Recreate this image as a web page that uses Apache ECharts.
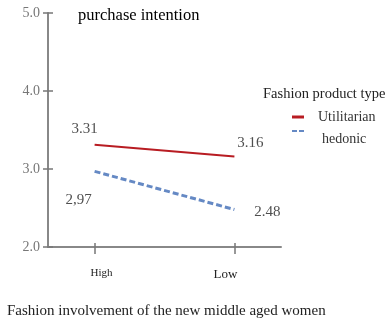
<!DOCTYPE html>
<html>
<head>
<meta charset="utf-8">
<script src="https://cdn.jsdelivr.net/npm/echarts@6/dist/echarts.min.js"></script>
<style>
  html, body { margin: 0; padding: 0; background: #fff; }
  #chart { width: 391px; height: 326px; }
</style>
</head>
<body>
<div id="chart"></div>
<script>
// Purchase intention by fashion involvement and product type
const categories = ['High', 'Low'];
const seriesNames = ['Utilitarian', 'hedonic'];
const utilitarian = [3.31, 3.16];
const hedonic = [2.97, 2.48];
const yTicks = [2.0, 3.0, 4.0, 5.0];
const labelTexts = {
  Utilitarian: ['3.31', '3.16'],
  hedonic: ['2,97', '2.48']
};

// category axis padded with blank slots so the two levels sit inside the frame
const axisSlots = ['', 'High', '', '', 'Low', ''];
const slotOf = c => axisSlots.indexOf(c);

const serif = '"Liberation Serif", "DejaVu Serif", serif';

// value label placement, relative to each point
const labelOffsets = {
  Utilitarian: [[-10, -16], [16, -13]],
  hedonic: [[-16, 29], [33, 3]]
};

function lineData(values) {
  return categories.map((c, i) => [slotOf(c), values[i]]);
}

function labelData(name, values) {
  return categories.map((c, i) => ({
    value: [slotOf(c), values[i]],
    label: {
      show: true,
      position: 'inside',
      offset: labelOffsets[name][i],
      formatter: labelTexts[name][i],
      fontFamily: serif,
      fontSize: 15,
      color: '#222'
    }
  }));
}

const isTickSlot = (i, v) => v !== '';

const axisLabelStyle = {
  High: { fontSize: 11, padding: [0, 0, 0, 14] },
  Low: { fontSize: 13, padding: [0, 18, 0, 0] }
};

// legend keys: a short solid bar and a short dashed bar (the dashed one sits high in its box)
const solidKey = 'path://M0,0H12V3H0Z';
const dashedKey = 'path://M0,0H5V2H0Z M7,0H12V2H7Z M0,18L0.01,18';

const chart = echarts.init(document.getElementById('chart'), null, { renderer: 'canvas' });

const legendText = { fontFamily: serif, fontSize: 14, color: '#333' };

chart.setOption({
  animation: false,
  backgroundColor: '#ffffff',
  title: [
    {
      text: 'purchase intention',
      left: 78, top: 7, padding: 0,
      textStyle: { fontFamily: serif, fontSize: 16.5, fontWeight: 'normal', color: '#000' }
    },
    {
      text: 'Fashion product type',
      left: 263, top: 87, padding: 0,
      textStyle: { fontFamily: serif, fontSize: 14.5, fontWeight: 'normal', color: '#222' }
    },
    {
      text: 'Fashion involvement of the new middle aged women',
      left: 7, top: 304, padding: 0,
      textStyle: { fontFamily: serif, fontSize: 15, fontWeight: 'normal', color: '#222' }
    }
  ],
  legend: [
    {
      orient: 'vertical',
      left: 292, top: 110, padding: 0,
      itemWidth: 12, itemHeight: 3,
      data: [{ name: seriesNames[0], icon: solidKey }],
      textStyle: Object.assign({ padding: [0, 0, 0, 9] }, legendText)
    },
    {
      orient: 'vertical',
      left: 292, top: 130, padding: 0,
      itemWidth: 12, itemHeight: 18,
      data: [{ name: seriesNames[1], icon: dashedKey }],
      textStyle: Object.assign({ padding: [0, 0, 0, 13] }, legendText)
    }
  ],
  grid: { left: 48, top: 13, right: 110, bottom: 79 },
  xAxis: [
    {
      type: 'category',
      data: axisSlots.map(s => axisLabelStyle[s]
        ? { value: s, textStyle: axisLabelStyle[s] }
        : s),
      boundaryGap: false,
      axisLine: { lineStyle: { color: '#888', width: 2 } },
      axisTick: { interval: isTickSlot, length: 7, lineStyle: { color: '#777', width: 1.5 } },
      axisLabel: {
        interval: isTickSlot, margin: 21,
        fontFamily: serif, color: '#222'
      },
      splitLine: { show: false }
    },
    {
      type: 'category',
      data: axisSlots,
      boundaryGap: false,
      position: 'bottom',
      axisLine: { show: false },
      axisTick: { interval: isTickSlot, inside: true, length: 4, lineStyle: { color: '#777', width: 1.5 } },
      axisLabel: { show: false },
      splitLine: { show: false }
    }
  ],
  yAxis: [
    {
      type: 'value',
      min: yTicks[0], max: yTicks[yTicks.length - 1], interval: 1,
      axisLine: { show: true, lineStyle: { color: '#888', width: 2 } },
      axisTick: { show: true, length: 5, lineStyle: { color: '#777', width: 1.5 } },
      axisLabel: {
        margin: 8, fontFamily: serif, fontSize: 14, color: '#777',
        formatter: v => v.toFixed(1)
      },
      splitLine: { show: false }
    },
    {
      type: 'value',
      min: yTicks[0], max: yTicks[yTicks.length - 1], interval: 1,
      position: 'left',
      axisLine: { show: false },
      axisTick: { show: true, inside: true, length: 5, lineStyle: { color: '#777', width: 1.5 } },
      axisLabel: { show: false },
      splitLine: { show: false }
    }
  ],
  series: [
    {
      name: seriesNames[0],
      type: 'line',
      symbol: 'none',
      color: '#b81c22',
      lineStyle: { color: '#b81c22', width: 2 },
      data: lineData(utilitarian)
    },
    {
      name: seriesNames[1],
      type: 'line',
      symbol: 'none',
      color: '#6589c4',
      lineStyle: { color: '#6589c4', width: 3, type: [6, 3] },
      data: lineData(hedonic)
    },
    {
      type: 'scatter',
      symbolSize: 0,
      silent: true,
      data: labelData('Utilitarian', utilitarian)
    },
    {
      type: 'scatter',
      symbolSize: 0,
      silent: true,
      data: labelData('hedonic', hedonic)
    }
  ]
});
</script>
</body>
</html>
